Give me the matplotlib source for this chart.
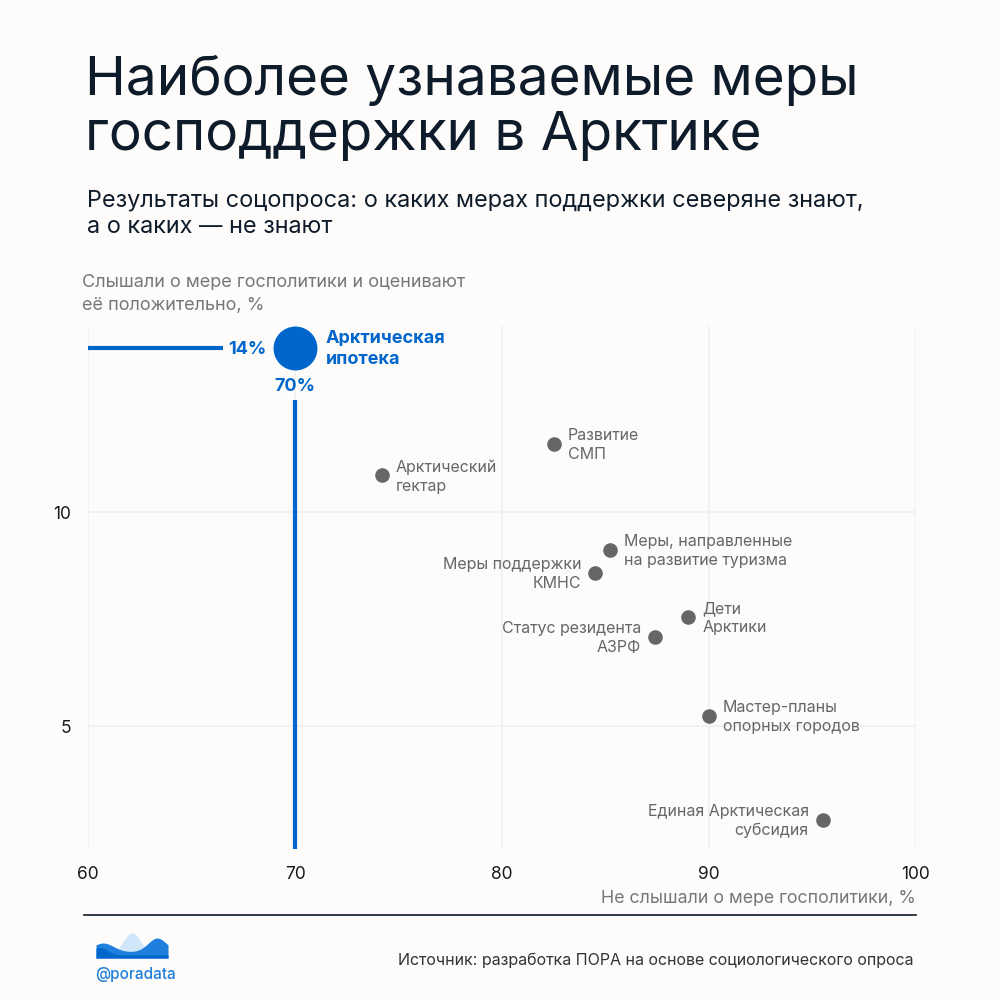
import matplotlib
matplotlib.use("Agg")
import matplotlib.pyplot as plt
import numpy as np

plt.rcParams['font.family'] = ['Inter', 'DejaVu Sans']

# ---- data ----
labels = ["Арктический\nгектар", "Развитие\nСМП", "Меры, направленные\nна развитие туризма",
          "Меры поддержки\nКМНС", "Дети\nАрктики", "Статус резидента\nАЗРФ",
          "Мастер-планы\nопорных городов", "Единая Арктическая\nсубсидия"]
not_heard = [74.2, 82.5, 85.2, 84.5, 89.0, 87.4, 90.0, 95.5]
positive = [10.86, 11.59, 9.11, 8.57, 7.55, 7.08, 5.23, 2.80]
label_side = ["right", "right", "right", "left", "right", "left", "right", "left"]

hl_label = "Арктическая\nипотека"
hl_x = 70.0
hl_y = 13.83
hl_x_text = "70%"
hl_y_text = "14%"

x_ticks = [60, 70, 80, 90, 100]
y_ticks = [5, 10]

BG = "#FDFCFA"
BLUE = "#0066CC"
GRAY = "#666666"
NAVY = "#0D1B2A"

fig = plt.figure(figsize=(10, 10), dpi=100, facecolor=BG)
ax = fig.add_axes([0.088, 0.151, 0.828, 0.523])
ax.set_facecolor(BG)
ax.set_xlim(60, 100)
ax.set_ylim(2.13, 14.35)
for s in ax.spines.values():
    s.set_visible(False)
ax.set_xticks(x_ticks)
ax.set_yticks(y_ticks)
ax.tick_params(length=0, labelsize=12.5, colors="#1a1a1a")
ax.tick_params(axis='x', pad=12)
ax.tick_params(axis='y', pad=12)
ax.grid(True, color="#EFEFEF", linewidth=1.2)
ax.set_axisbelow(True)

# gray points
ax.scatter(not_heard, positive, s=110, color=GRAY, zorder=3, linewidths=0)
for x, y, t, side in zip(not_heard, positive, labels, label_side):
    dx = 14 if side == "right" else -14
    ax.annotate(t, (x, y), xytext=(dx, -1), textcoords="offset pixels",
                ha="left" if side == "right" else "right", va="center",
                fontsize=11.5, color=GRAY, linespacing=1.32)

# highlight
ymin = ax.get_ylim()[0]
ax.plot([60, 66.5], [hl_y, hl_y], color=BLUE, lw=3, solid_capstyle="butt", zorder=2)
ax.plot([hl_x, hl_x], [ymin, 12.62], color=BLUE, lw=3, solid_capstyle="butt", zorder=2)
ax.scatter([hl_x], [hl_y], s=1000, color=BLUE, zorder=4, linewidths=0)
ax.annotate(hl_label, (hl_x, hl_y), xytext=(31, -1), textcoords="offset pixels",
            ha="left", va="center", fontsize=13, fontweight="bold", color=BLUE, linespacing=1.3)
ax.annotate(hl_y_text, (hl_x, hl_y), xytext=(-29, -1), textcoords="offset pixels",
            ha="right", va="center", fontsize=13, fontweight="bold", color=BLUE)
ax.annotate(hl_x_text, (hl_x, hl_y), xytext=(0, -38), textcoords="offset pixels",
            ha="center", va="center", fontsize=13, fontweight="bold", color=BLUE)

# titles
fig.text(0.085, 0.892, "Наиболее узнаваемые меры\nгосподдержки в Арктике", fontsize=39.5,
         color=NAVY, ha="left", va="center", linespacing=1.12)
fig.text(0.087, 0.786, "Результаты соцопроса: о каких мерах поддержки северяне знают,\nа о каких — не знают",
         fontsize=16.9, color=NAVY, ha="left", va="center", linespacing=1.25)
fig.text(0.082, 0.706, "Слышали о мере госполитики и оценивают\nеё положительно, %", fontsize=13,
         color="#777777", ha="left", va="center", linespacing=1.4)
fig.text(0.916, 0.101, "Не слышали о мере госполитики, %", fontsize=12.8,
         color="#777777", ha="right", va="center")

# bottom rule
fig.add_artist(plt.Line2D([0.084, 0.916], [0.085, 0.085], color=NAVY, lw=1.2))
fig.text(0.914, 0.040, "Источник: разработка ПОРА на основе социологического опроса",
         fontsize=11.5, color="#333333", ha="right", va="center")

# logo
lax = fig.add_axes([0.096, 0.042, 0.072, 0.025])
lax.set_xlim(0, 1); lax.set_ylim(0, 1); lax.axis("off")
t = np.linspace(0, 1, 60)
back = 0.15 + 0.85 * np.exp(-((t - 0.5) / 0.17) ** 2)
lax.fill_between(t, 0, back, color="#CFE6FB", lw=0)
front1 = 0.25 + 0.35 * np.exp(-((t - 0.1) / 0.2) ** 2) + 0.55 * np.exp(-((t - 0.85) / 0.18) ** 2)
lax.fill_between(t, 0, front1, color="#1E7FDD", lw=0)
front2 = 0.12 + 0.3 * np.exp(-((t - 0.05) / 0.15) ** 2)
lax.fill_between(t, 0, front2, color="#0066CC", lw=0)
fig.text(0.095, 0.025, "@poradata", fontsize=11, fontweight="medium", color="#1E7FDD",
         ha="left", va="center")

fig.savefig("out.png", dpi=100, facecolor=BG)
